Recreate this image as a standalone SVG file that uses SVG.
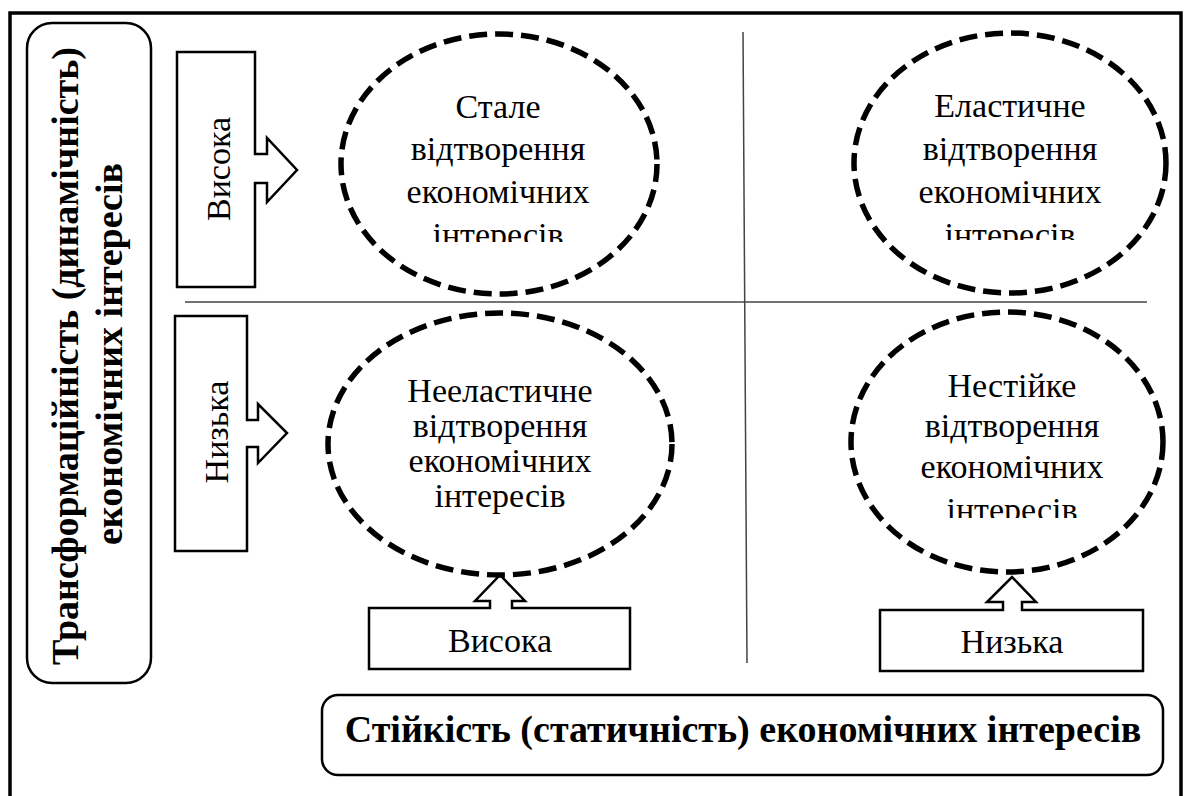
<svg xmlns="http://www.w3.org/2000/svg" width="1186" height="796" viewBox="0 0 1186 796">
  <style>
    .frame { fill: none; stroke: #000; stroke-width: 3.5; }
    .box { fill: #fff; stroke: #000; stroke-width: 2.5; stroke-linejoin: miter; }
    .rbox { fill: #fff; stroke: #000; stroke-width: 2.5; }
    .oval { fill: #fff; stroke: #000; stroke-width: 5.5; stroke-dasharray: 18 8; }
    .div { stroke: #444; stroke-width: 1.5; fill: none; }
    .t { font-family: 'Liberation Serif', 'Times New Roman', serif; font-size: 34px; fill: #000; text-anchor: middle; }
    .tb { font-family: 'Liberation Serif', 'Times New Roman', serif; font-size: 38px; font-weight: bold; fill: #000; text-anchor: middle; }
  </style>
  <defs>
    <clipPath id="clipA"><rect x="330" y="60" width="340" height="182"/></clipPath>
    <clipPath id="clipB"><rect x="850" y="60" width="330" height="180"/></clipPath>
    <clipPath id="clipD"><rect x="850" y="340" width="330" height="178"/></clipPath>
  </defs>

  <rect width="1186" height="796" fill="#fff"/>
  <rect id="frame" class="frame" x="10" y="13" width="1171" height="800"/>

  <g id="connectors">
    <line class="div" x1="743" y1="32" x2="747" y2="663"/>
    <line class="div" x1="185" y1="302" x2="1147" y2="302"/>
  </g>

  <g id="axis-y">
    <rect class="rbox" x="27" y="23" width="124" height="660" rx="25" ry="25"/>
    <text class="tb" transform="translate(78,356) rotate(-90)">Трансформаційність (динамічність)</text>
    <text class="tb" transform="translate(122,354) rotate(-90)">економічних інтересів</text>
  </g>

  <g id="axis-x">
    <rect class="rbox" x="322" y="695" width="841" height="80" rx="16" ry="16"/>
    <text class="tb" x="743" y="742">Стійкість (статичність) економічних інтересів</text>
  </g>

  <g id="y-high">
    <path class="box" d="M177,52 H255 V154 H267 V138 L297,170 L267,202 V183 H255 V287 H177 Z"/>
    <text class="t" transform="translate(230,169) rotate(-90)">Висока</text>
  </g>

  <g id="y-low">
    <path class="box" d="M175,316 H247 V420 H258 V404 L287,433 L258,463 V447 H247 V551 H175 Z"/>
    <text class="t" transform="translate(228,432) rotate(-90)">Низька</text>
  </g>

  <g id="x-high">
    <path class="box" d="M369,608 H490 V601 H475 L500,575 L525,601 H512 V608 H630 V669 H369 Z"/>
    <text class="t" x="500" y="652">Висока</text>
  </g>

  <g id="x-low">
    <path class="box" d="M880,610 H1003 V602 H987 L1012,577 L1036,602 H1022 V610 H1143 V671 H880 Z"/>
    <text class="t" x="1012" y="653">Низька</text>
  </g>

  <g id="stable">
    <ellipse class="oval" cx="499" cy="164" rx="158" ry="130"/>
    <g clip-path="url(#clipA)">
      <text class="t" x="498" y="118">Стале</text>
      <text class="t" x="498" y="160">відтворення</text>
      <text class="t" x="498" y="203">економічних</text>
      <text class="t" x="498" y="246">інтересів</text>
    </g>
  </g>

  <g id="elastic">
    <ellipse class="oval" cx="1010" cy="163" rx="156" ry="130"/>
    <g clip-path="url(#clipB)">
      <text class="t" x="1010" y="117">Еластичне</text>
      <text class="t" x="1010" y="160">відтворення</text>
      <text class="t" x="1010" y="203">економічних</text>
      <text class="t" x="1010" y="246">інтересів</text>
    </g>
  </g>

  <g id="inelastic">
    <ellipse class="oval" cx="500" cy="444" rx="172" ry="131"/>
    <text class="t" x="500" y="402">Нееластичне</text>
    <text class="t" x="500" y="437">відтворення</text>
    <text class="t" x="500" y="472">економічних</text>
    <text class="t" x="500" y="507">інтересів</text>
  </g>

  <g id="unstable">
    <ellipse class="oval" cx="1007" cy="442" rx="156" ry="130"/>
    <g clip-path="url(#clipD)">
      <text class="t" x="1012" y="397">Нестійке</text>
      <text class="t" x="1012" y="437">відтворення</text>
      <text class="t" x="1012" y="478">економічних</text>
      <text class="t" x="1012" y="521">інтересів</text>
    </g>
  </g>
</svg>
